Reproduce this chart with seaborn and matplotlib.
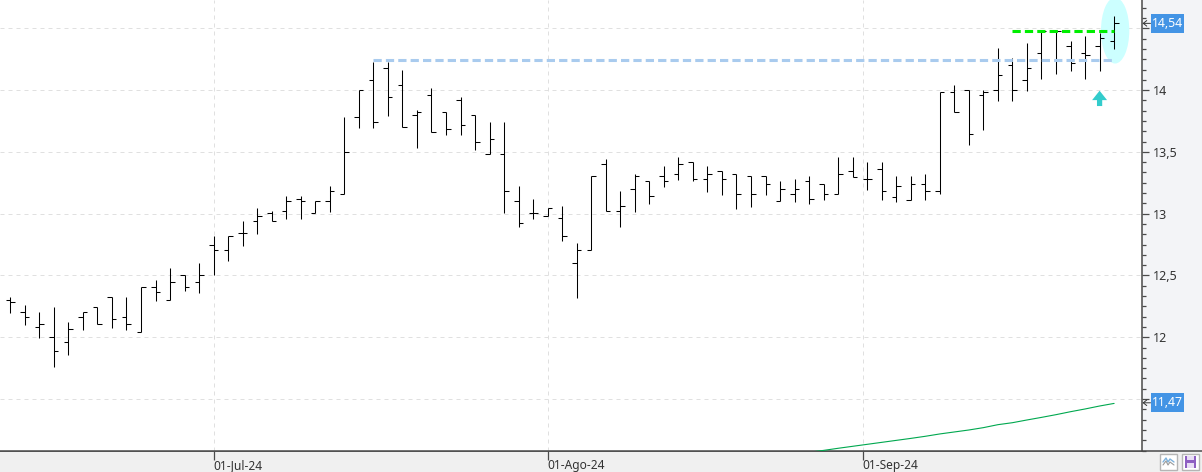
import numpy as np
import pandas as pd
import matplotlib
matplotlib.use("Agg")
import matplotlib.pyplot as plt
import seaborn as sns
from matplotlib.patches import Ellipse, Rectangle, FancyArrow
from matplotlib.ticker import MultipleLocator
from matplotlib.transforms import blended_transform_factory

# values, one entry per session
highs = [12.326, 12.258, 12.202, 12.245, 12.121, 12.202, 12.245, 12.324, 12.324, 12.404,
         12.461, 12.558, 12.502, 12.599, 12.817, 12.817, 12.939, 13.044, 13.020, 13.141,
         13.140, 13.100, 13.221, 13.779, 13.998, 14.224, 14.224, 14.159, 13.836, 14.014,
         13.820, 13.941, 13.795, 13.739, 13.739, 13.221, 13.116, 13.043, 13.059, 12.760,
         13.302, 13.440, 13.181, 13.318, 13.262, 13.383, 13.456, 13.415, 13.383, 13.343,
         13.318, 13.302, 13.302, 13.262, 13.278, 13.302, 13.237, 13.456, 13.456, 13.416,
         13.416, 13.302, 13.302, 13.318, 13.982, 14.039, 13.998, 13.998, 14.338, 14.257,
         14.378, 14.475, 14.475, 14.395, 14.435, 14.459, 14.600]
lows = [12.199, 12.102, 11.997, 11.762, 11.859, 12.061, 12.105, 12.078, 12.061, 12.040,
        12.296, 12.299, 12.378, 12.361, 12.502, 12.620, 12.742, 12.839, 12.939, 12.960,
        12.959, 13.002, 13.013, 13.156, 13.696, 13.696, 13.793, 13.698, 13.534, 13.658,
        13.639, 13.639, 13.518, 13.480, 13.002, 12.895, 12.959, 12.978, 12.781, 12.320,
        12.703, 13.019, 12.895, 13.016, 13.081, 13.219, 13.275, 13.262, 13.178, 13.154,
        13.041, 13.057, 13.154, 13.100, 13.097, 13.081, 13.113, 13.156, 13.300, 13.194,
        13.114, 13.097, 13.114, 13.114, 13.157, 13.820, 13.559, 13.680, 13.915, 13.915,
        13.995, 14.093, 14.133, 14.157, 14.093, 14.157, 14.335]
opens = [12.299, 12.202, 12.081, 12.000, 11.959, 12.164, 12.245, 12.324, 12.164, 12.040,
         12.404, 12.299, 12.502, 12.445, 12.744, 12.704, 12.842, 12.939, 13.003, 13.020,
         13.116, 13.002, 13.100, 13.156, 13.779, 14.079, 14.176, 14.038, 13.795, 13.957,
         13.820, 13.917, 13.795, 13.480, 13.480, 13.100, 13.002, 12.978, 12.962, 12.598,
         12.703, 13.399, 13.019, 13.197, 13.262, 13.302, 13.318, 13.415, 13.278, 13.343,
         13.318, 13.302, 13.302, 13.100, 13.156, 13.262, 13.237, 13.156, 13.343, 13.278,
         13.359, 13.138, 13.114, 13.238, 13.181, 13.982, 13.998, 13.958, 13.998, 14.200,
         14.079, 14.297, 14.475, 14.354, 14.297, 14.354, 14.395]
closes = [12.283, 12.164, 12.105, 11.886, 12.064, 12.202, 12.105, 12.145, 12.105, 12.404,
          12.364, 12.445, 12.404, 12.502, 12.704, 12.817, 12.842, 12.979, 12.939, 13.100,
          13.100, 13.100, 13.180, 13.496, 13.998, 13.739, 13.941, 13.698, 13.820, 13.658,
          13.682, 13.714, 13.577, 13.601, 13.180, 12.922, 13.002, 13.043, 12.816, 12.703,
          13.302, 13.019, 13.059, 13.302, 13.140, 13.262, 13.399, 13.278, 13.318, 13.278,
          13.156, 13.156, 13.237, 13.197, 13.197, 13.116, 13.156, 13.318, 13.300, 13.278,
          13.181, 13.221, 13.238, 13.181, 13.982, 13.820, 13.642, 13.987, 14.119, 13.998,
          14.176, 14.475, 14.475, 14.217, 14.281, 14.419, 14.540]

ma_start = 55
ma_values = [11.070, 11.085, 11.102, 11.118, 11.134, 11.150, 11.166, 11.182, 11.199, 11.218,
             11.234, 11.250, 11.269, 11.293, 11.309, 11.331, 11.352, 11.374, 11.398, 11.420,
             11.444, 11.465]

resistance_blue = 14.241
resistance_green = 14.476
blue_start = 25
green_start = 69
last_bar = 76

date_pos = [14, 37, 58.7]
date_labels = ["01-Jul-24", "01-Ago-24", "01-Sep-24"]
price_ticks = [14.5, 14, 13.5, 13, 12.5, 12, 11.5]
price_labels = ["", "14", "13,5", "13", "12,5", "12", ""]
last_price = 14.54
last_ma = 11.47
last_price_label = "14,54"
last_ma_label = "11,47"

ohlc = pd.DataFrame({"open": opens, "high": highs, "low": lows, "close": closes})
ohlc["bar"] = np.arange(len(ohlc))
ma = pd.DataFrame({"bar": np.arange(ma_start, ma_start + len(ma_values)), "ma": ma_values})

sns.set_style("white")
plt.rcParams["font.family"] = ["Noto Sans", "DejaVu Sans"]

W, H = 1202, 472
fig = plt.figure(figsize=(W / 100, H / 100), dpi=100, facecolor="#F3F4F7")

# window chrome sits under the chart, in pixel coordinates
ui = fig.add_axes([0, 0, 1, 1], zorder=0)
ui.set_xlim(0, W)
ui.set_ylim(H, 0)
ui.axis("off")
ui.add_patch(Rectangle((0, 451), W, 21, facecolor="#F0F0F0", edgecolor="none"))
ui.plot([0, W], [451, 451], color="#4A4A4A", lw=1.1)

ax = fig.add_axes([0, (H - 451) / H, 1142 / W, 451 / H], zorder=1)
ax.set_facecolor("white")
ax.set_xlim(-0.709, 77.92)
ax.set_ylim(11.08, 14.729)

ax.add_patch(Ellipse((76.07, 14.482), 1.95, 0.534, facecolor="#CCFFFF", edgecolor="none", zorder=1))

ax.vlines(ohlc["bar"], ohlc["low"], ohlc["high"], color="black", lw=0.75, zorder=3)
ax.hlines(ohlc["open"], ohlc["bar"] - 0.31, ohlc["bar"], color="black", lw=0.75, zorder=3)
ax.hlines(ohlc["close"], ohlc["bar"], ohlc["bar"] + 0.31, color="black", lw=0.75, zorder=3)

sns.lineplot(data=ma, x="bar", y="ma", color="#00A84F", lw=0.8, ax=ax, zorder=3)
sns.lineplot(x=[blue_start, last_bar], y=[resistance_blue, resistance_blue], color="#A9CBEE",
             lw=2.2, linestyle=(0, (2.7, 1.35)), ax=ax, zorder=4)
sns.lineplot(x=[green_start, last_bar], y=[resistance_green, resistance_green], color="#00EE00",
             lw=2.2, linestyle=(0, (2.7, 1.35)), ax=ax, zorder=4)

ax.add_patch(FancyArrow(75, 13.871, 0, 0.124, width=0.36, head_width=1.03, head_length=0.076,
                        length_includes_head=True, facecolor="#33CCCC", edgecolor="none", zorder=4))

ax.set_xticks(date_pos)
ax.set_xticklabels(date_labels, ha="left", fontsize=8.6, color="#333333")
ax.set_yticks(price_ticks)
ax.set_yticklabels(price_labels, fontsize=9, color="#333333")
ax.yaxis.set_minor_locator(MultipleLocator(0.5 / 6))
ax.yaxis.tick_right()
ax.tick_params(axis="x", direction="out", length=6.5, width=0.9, color="#4A4A4A", pad=-1, bottom=True)
ax.tick_params(axis="y", which="major", direction="out", length=4.8, width=0.9, color="#4A4A4A", pad=3, right=True)
ax.tick_params(axis="y", which="minor", direction="out", length=3, width=0.9, color="#4A4A4A", right=True)
ax.grid(True, which="major", color="#E0E0E0", lw=0.72, linestyle=(0, (4, 4)))
ax.set_axisbelow(True)
ax.set_xlabel("")
ax.set_ylabel("")
for side in ["left", "top"]:
    ax.spines[side].set_visible(False)
for side in ["right", "bottom"]:
    ax.spines[side].set_visible(True)
    ax.spines[side].set_color("#4A4A4A")
    ax.spines[side].set_linewidth(1.1)

# labels of the last values on the price scale
scale = blended_transform_factory(ui.transData, ax.transData)
for value, text in [(last_price, last_price_label), (last_ma, last_ma_label)]:
    ax.add_patch(Rectangle((1151, value - 0.077), 33, 0.154, transform=scale, facecolor="#4394E5",
                           edgecolor="none", clip_on=False, zorder=5))
    ax.text(1167.5, value, text, transform=scale, ha="center", va="center", color="white", fontsize=8.8,
            clip_on=False, zorder=6)
    ax.annotate("", xy=(1142.5, value), xytext=(1150.5, value), xycoords=scale, textcoords=scale,
                annotation_clip=False, zorder=6,
                arrowprops=dict(arrowstyle="->,head_length=0.25,head_width=0.2", color="#333333", lw=0.7,
                                shrinkA=0, shrinkB=0))

# the two buttons in the bottom right corner
ui.add_patch(Rectangle((1159.5, 453.5), 17.5, 16, facecolor="white", edgecolor="#B5B5B5", lw=1))
ui.plot([1163, 1166, 1168, 1170, 1174], [462, 458, 462, 459, 462], color="#7FB2DC", lw=1)
ui.plot([1163, 1166, 1168, 1170, 1174], [465, 461, 465, 462, 465], color="#9A9A9A", lw=0.8)
ui.add_patch(Rectangle((1181.5, 453.5), 17.5, 16, facecolor="white", edgecolor="#B5B5B5", lw=1))
ui.add_patch(Rectangle((1185, 455.5), 11, 12, facecolor="#8E5FC2", edgecolor="none"))
ui.add_patch(Rectangle((1187, 455.5), 7, 4, facecolor="#E8DDF4", edgecolor="none"))
ui.add_patch(Rectangle((1187, 462.5), 7, 5, facecolor="#E8DDF4", edgecolor="none"))

fig.savefig("out.png", dpi=100)
